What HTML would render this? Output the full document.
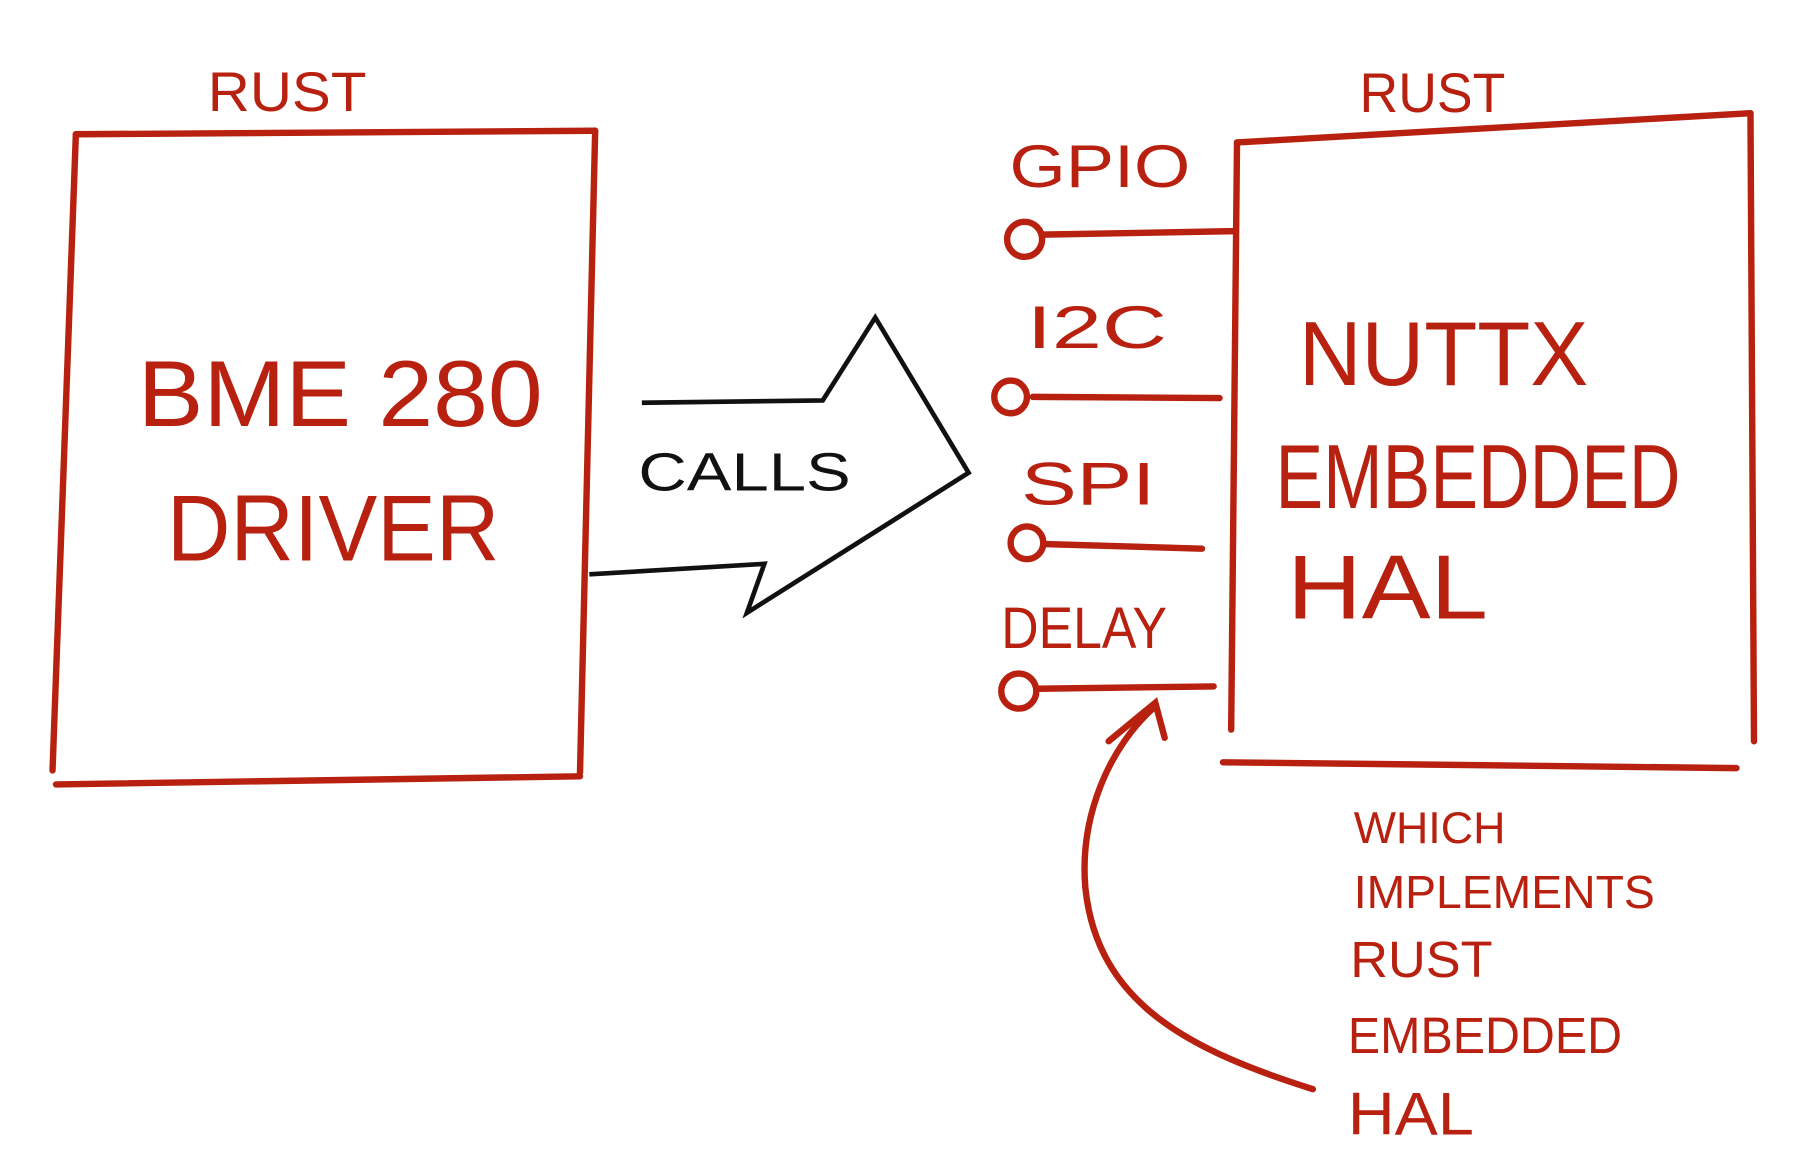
<!DOCTYPE html>
<html><head><style>
html,body{margin:0;padding:0;background:#fff;}
svg{display:block;}
text{font-family:"Liberation Sans",sans-serif;}
</style></head><body>
<svg width="1810" height="1151" viewBox="0 0 1551 986" preserveAspectRatio="none" xmlns="http://www.w3.org/2000/svg">
<rect width="1551" height="986" fill="#fff"/>
<g fill="none" stroke="#b8200f" stroke-width="5.5" stroke-linecap="round">
<path d="M65,115 L510,112"/>
<path d="M65,115 L45,660"/>
<path d="M510,112 L497,662"/>
<path d="M48,672 L497,665"/>
<path d="M1060,122 L1500,97"/>
<path d="M1060,122 L1055,625"/>
<path d="M1500,97 L1503,635"/>
<path d="M1048,653 L1488,658"/>
<circle cx="878" cy="205" r="15"/><path d="M893,201 L1058,198"/>
<circle cx="866" cy="340" r="14"/><path d="M885,340 L1045,341"/>
<circle cx="880" cy="465" r="14"/><path d="M894,466 L1030,470"/>
<circle cx="873" cy="592" r="15"/><path d="M888,590 L1040,588"/>
<path d="M1125,933 C1020,900 940,860 930,760 C925,700 950,640 990,605"/>
<path d="M950,635 L990,602 L998,632"/>
</g>
<path d="M550,345 L705,343 L750,272 L830,405 L640,525 L655,483 L505,492" fill="none" stroke="#111" stroke-width="4" stroke-linejoin="miter"/>
<g fill="#b8200f">
<text x="178" y="95" font-size="48" textLength="136" lengthAdjust="spacingAndGlyphs">RUST</text>
<text x="1165" y="96" font-size="48" textLength="125" lengthAdjust="spacingAndGlyphs">RUST</text>
<text x="118" y="365" font-size="80" textLength="347" lengthAdjust="spacingAndGlyphs">BME 280</text>
<text x="143" y="480" font-size="80" textLength="285" lengthAdjust="spacingAndGlyphs">DRIVER</text>
<text x="865" y="160" font-size="52" textLength="155" lengthAdjust="spacingAndGlyphs">GPIO</text>
<text x="880" y="298" font-size="52" textLength="120" lengthAdjust="spacingAndGlyphs">I2C</text>
<text x="875" y="432" font-size="52" textLength="115" lengthAdjust="spacingAndGlyphs">SPI</text>
<text x="858" y="555" font-size="50" textLength="142" lengthAdjust="spacingAndGlyphs">DELAY</text>
<text x="1113" y="330" font-size="78" textLength="248" lengthAdjust="spacingAndGlyphs">NUTTX</text>
<text x="1093" y="435" font-size="78" textLength="347" lengthAdjust="spacingAndGlyphs">EMBEDDED</text>
<text x="1103" y="530" font-size="78" textLength="172" lengthAdjust="spacingAndGlyphs">HAL</text>
<text x="1160" y="722" font-size="38" textLength="130" lengthAdjust="spacingAndGlyphs">WHICH</text>
<text x="1160" y="778" font-size="40" textLength="258" lengthAdjust="spacingAndGlyphs">IMPLEMENTS</text>
<text x="1157" y="837" font-size="44" textLength="122" lengthAdjust="spacingAndGlyphs">RUST</text>
<text x="1155" y="902" font-size="44" textLength="235" lengthAdjust="spacingAndGlyphs">EMBEDDED</text>
<text x="1155" y="972" font-size="52" textLength="108" lengthAdjust="spacingAndGlyphs">HAL</text>
</g>
<text x="547" y="420" font-size="46" fill="#111" textLength="182" lengthAdjust="spacingAndGlyphs">CALLS</text>
</svg>
</body></html>
